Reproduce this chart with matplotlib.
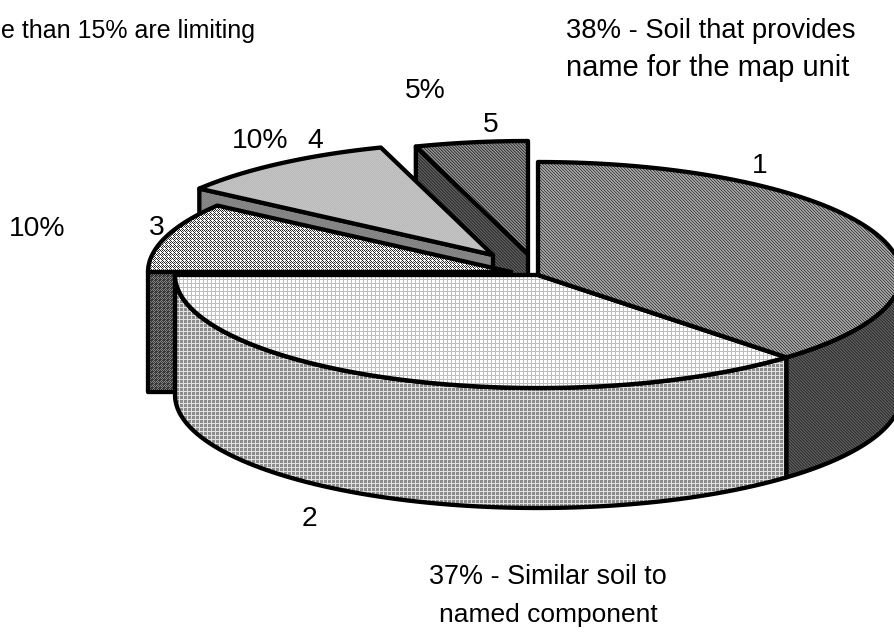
import numpy as np
import matplotlib
matplotlib.use("Agg")
import matplotlib.pyplot as plt
from matplotlib.patches import Polygon

plt.rcParams['font.family'] = ['Liberation Sans', 'DejaVu Sans']

# pie shares in percent, clockwise from 12 o'clock
slices = [1, 2, 3, 4, 5]
shares = [38, 37, 10, 10, 5]
share_labels = ["38% - Soil that provides\nname for the map unit",
                "37% - Similar soil to\nnamed component",
                "10%", "10%", "5%"]
note_text = "e than 15% are limiting"

W, H = 894, 633
RX, RY = 363, 113
THICK = 120
LW = 3.1

# exploded centre of each slice, in pixels
centres = {1: (538, 275), 2: (538, 275), 3: (511, 272), 4: (493, 255), 5: (528, 254)}

# dither tiles, grey levels 0-255
grid_light = np.array([[255, 255, 255, 190],
                       [255, 255, 255, 190],
                       [255, 255, 255, 190],
                       [190, 190, 190, 190]])
grid_mid = np.array([[140, 140, 140, 225],
                     [140, 140, 140, 225],
                     [140, 140, 140, 225],
                     [225, 225, 225, 225]])
checker = np.array([[255, 255, 40, 255],
                    [255, 100, 255, 40],
                    [40, 255, 40, 255],
                    [255, 40, 255, 100]])
fine_light = np.array([[200, 184], [184, 196]])
diag_mid = np.array([[70, 150, 165], [165, 70, 150], [150, 165, 70]])
diag_dark = np.array([[60, 110, 150], [150, 60, 110], [110, 150, 60]])
diag_darker = np.array([[50, 95, 70], [70, 50, 95], [95, 70, 50]])
dark_check = np.array([[60, 130, 60, 60],
                       [130, 60, 130, 60],
                       [60, 130, 60, 130],
                       [60, 60, 130, 40]])
plain_mid = np.array([[128, 136], [136, 128]])


def rim(c, a0, a1, dy=0, n=80):
    t = np.radians(np.linspace(a0, a1, n))
    return np.column_stack([c[0] + RX * np.sin(t), c[1] - RY * np.cos(t) + dy])


def top_face(c, a0, a1):
    return np.vstack([[c], rim(c, a0, a1)])


def outer_side(c, a0, a1):
    return np.vstack([rim(c, a0, a1), rim(c, a1, a0, THICK)])


def cut_side(c, a):
    p = rim(c, a, a, n=1)[0]
    return np.array([p, c, (c[0], c[1] + THICK), (p[0], p[1] + THICK)])


def face(ax, pts, tile):
    rows = H // tile.shape[0] + 1
    cols = W // tile.shape[1] + 1
    img = np.tile(tile, (rows, cols))[:H, :W]
    im = ax.imshow(img, cmap='gray', vmin=0, vmax=255, extent=(0, W, H, 0),
                   interpolation='nearest', aspect='auto', zorder=ax.zo)
    poly = Polygon(pts, closed=True, fc='none', ec='black', lw=LW,
                   joinstyle='round', zorder=ax.zo + 0.5)
    ax.add_patch(poly)
    im.set_clip_path(poly)
    ax.zo += 1


fig = plt.figure(figsize=(W / 100, H / 100), dpi=100)
ax = fig.add_axes([0, 0, 1, 1])
ax.zo = 1

# running start/end angle of every slice
ends = np.cumsum(shares) / sum(shares) * 360
starts = np.concatenate([[0], ends[:-1]])
a0 = dict(zip(slices, starts))
a1 = dict(zip(slices, ends))

# back to front
face(ax, cut_side(centres[5], a0[5]), diag_darker)
face(ax, top_face(centres[5], a0[5], a1[5]), diag_dark)
face(ax, cut_side(centres[4], a0[4]), plain_mid)
face(ax, top_face(centres[4], a0[4], a1[4]), fine_light)
face(ax, cut_side(centres[3], a0[3]), dark_check)
face(ax, top_face(centres[3], a0[3], a1[3]), checker)
face(ax, outer_side(centres[2], a0[2], a1[2]), grid_mid)
face(ax, top_face(centres[2], a0[2], a1[2]), grid_light)
face(ax, outer_side(centres[1], 80, a1[1]), diag_darker)
face(ax, top_face(centres[1], a0[1], a1[1]), diag_mid)

ax.set_xlim(0, W)
ax.set_ylim(H, 0)
ax.axis('off')


def label(x, y, s, ha='center', fs=20.3):
    ax.text(x, y, s, ha=ha, va='baseline', fontsize=fs, color='black', zorder=50)


label(1, 38, note_text, ha='left', fs=18.0)
label(566, 38, share_labels[0].split("\n")[0], ha='left', fs=19.7)
label(566, 76, share_labels[0].split("\n")[1], ha='left', fs=21)
label(548, 584, share_labels[1].split("\n")[0], fs=19.4)
label(548, 622, share_labels[1].split("\n")[1], fs=19)
label(37, 236, share_labels[2])
label(260, 148, share_labels[3])
label(425, 98, share_labels[4])

label(760, 173, str(slices[0]))
label(309, 526, str(slices[1]))
label(157, 235, str(slices[2]))
label(315, 148, str(slices[3]))
label(491, 132, str(slices[4]))

fig.savefig("out.png", dpi=100)
